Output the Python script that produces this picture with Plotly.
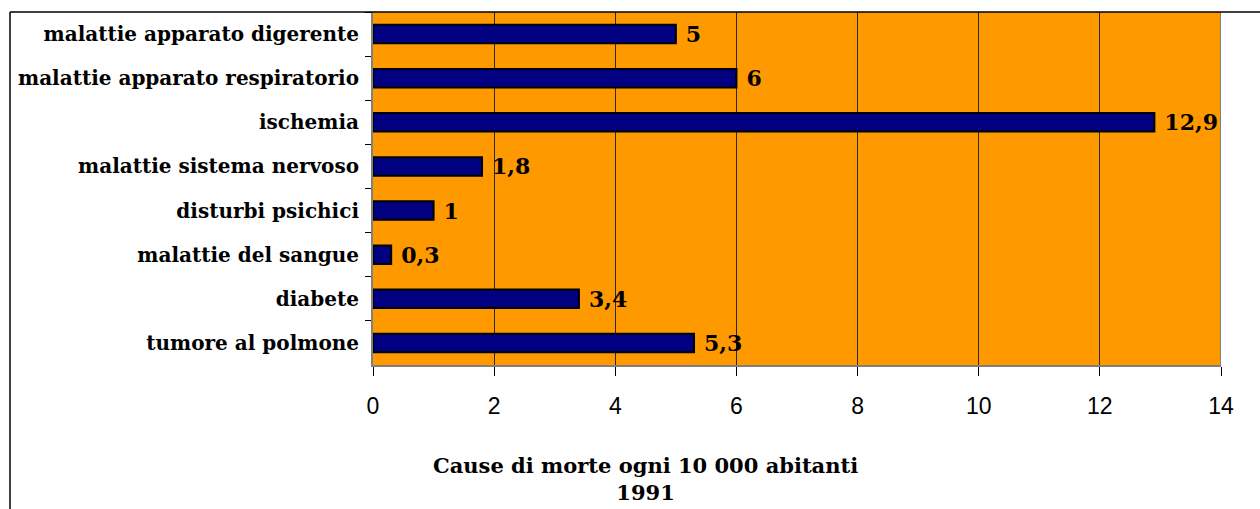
import plotly.graph_objects as go

# Causes of death per 10 000 inhabitants, 1991 (listed top to bottom)
causes = [
    "malattie apparato digerente",
    "malattie apparato respiratorio",
    "ischemia",
    "malattie sistema nervoso",
    "disturbi psichici",
    "malattie del sangue",
    "diabete",
    "tumore al polmone",
]
deaths = [5, 6, 12.9, 1.8, 1, 0.3, 3.4, 5.3]
x_ticks = [0, 2, 4, 6, 8, 10, 12, 14]

serif = "Georgia, 'DejaVu Serif', serif"
sans = "Arial, 'Liberation Sans', sans-serif"

fig = go.Figure(
    go.Bar(
        y=causes,
        x=deaths,
        orientation="h",
        marker=dict(color="#000080", line=dict(color="#000000", width=2)),
        text=deaths,
        texttemplate="&nbsp;<b>%{x}</b>",
        textposition="outside",
        constraintext="none",
        textfont=dict(family=serif, size=22, color="#000000"),
        cliponaxis=False,
        width=0.42,
    )
)

fig.update_layout(
    width=1260,
    height=509,
    margin=dict(l=373, r=39, t=12, b=144),
    paper_bgcolor="#ffffff",
    plot_bgcolor="#FF9900",
    separators=", ",
    showlegend=False,
    xaxis=dict(
        range=[0, 14],
        tickvals=x_ticks,
        showgrid=True,
        gridcolor="#2a2a2a",
        gridwidth=1,
        zeroline=False,
        showline=True,
        linecolor="#808080",
        linewidth=2,
        mirror=False,
        ticks="outside",
        ticklen=9,
        tickcolor="#000000",
        tickfont=dict(family=sans, size=23, color="#000000"),
        ticklabelstandoff=10,
    ),
    yaxis=dict(
        autorange="reversed",
        showgrid=False,
        zeroline=False,
        showline=True,
        linecolor="#808080",
        linewidth=2,
        ticks="outside",
        tickson="boundaries",
        ticklen=6,
        tickcolor="#000000",
        tickfont=dict(family=serif, size=20, color="#000000", weight="bold"),
        ticklabelstandoff=8,
    ),
    shapes=[
        # right edge of the plotting area
        dict(type="line", xref="x", yref="paper", x0=14, x1=14, y0=0, y1=1,
             line=dict(color="#808080", width=2)),
        # chart frame (left and top edges)
        dict(type="line", xref="paper", yref="paper",
             x0=-363 / 848, x1=-363 / 848, y0=1, y1=-144 / 353,
             line=dict(color="#000000", width=1.5)),
        dict(type="line", xref="paper", yref="paper",
             x0=-363 / 848, x1=(1260 - 373) / 848, y0=1, y1=1,
             line=dict(color="#000000", width=1.5)),
    ],
    annotations=[
        dict(text="<b>Cause di morte ogni 10 000 abitanti<br>1991</b>",
             xref="paper", yref="paper", x=(645 - 373) / 848, y=-(451 - 365) / 353,
             xanchor="center", yanchor="top", showarrow=False, align="center",
             font=dict(family=serif, size=21, color="#000000")),
    ],
)

fig.write_html("out.html")
